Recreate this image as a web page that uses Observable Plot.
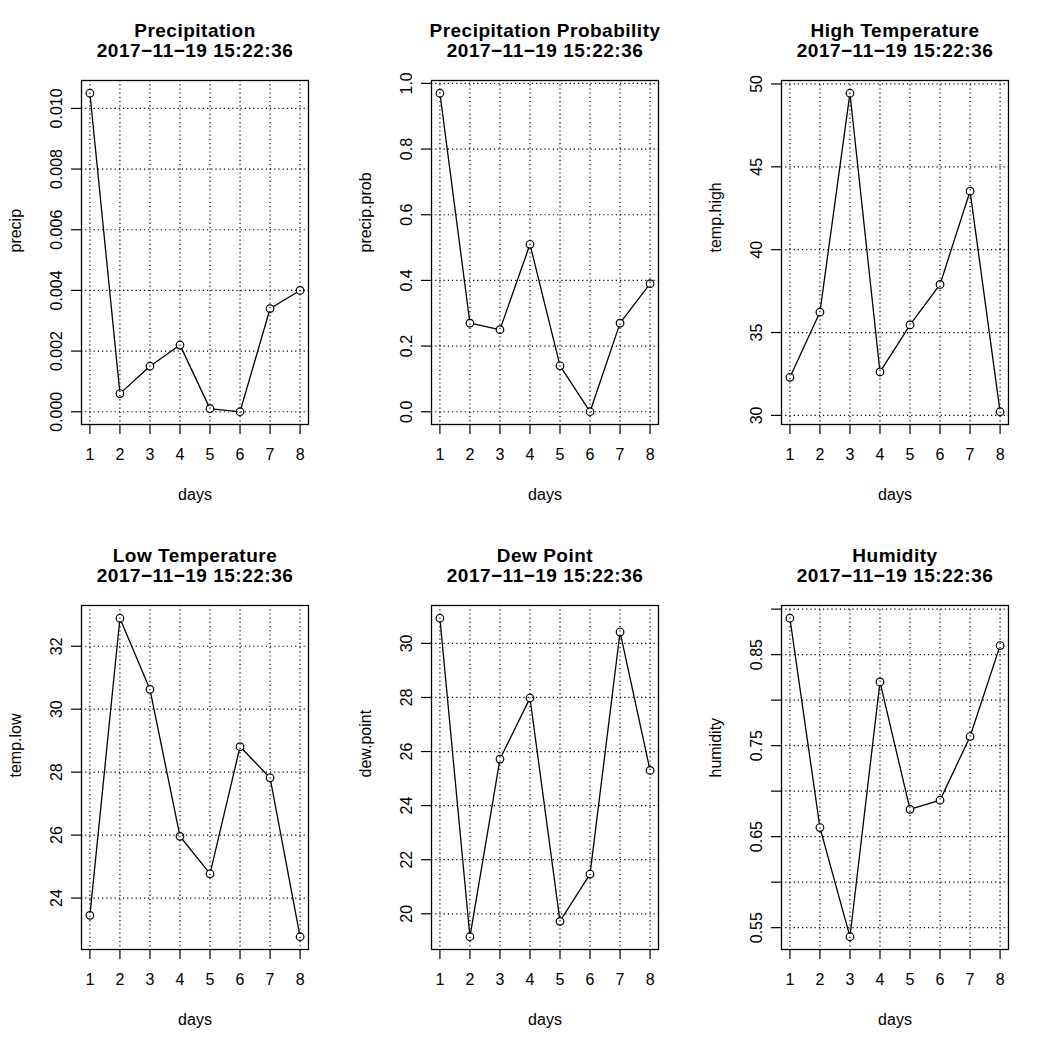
<!DOCTYPE html>
<html><head><meta charset="utf-8">
<script src="https://cdn.jsdelivr.net/npm/d3@7"></script>
<script src="https://cdn.jsdelivr.net/npm/@observablehq/plot@0.6"></script>
<style>
body{margin:0;background:#fff;}
#root{position:relative;width:1050px;height:1050px;background:#fff;}
.panel{position:absolute;width:350px;height:525px;}
</style></head><body><div id="root"></div>
<script>
// ---- data ----
const days = [1, 2, 3, 4, 5, 6, 7, 8];
const dayTicks = [1, 2, 3, 4, 5, 6, 7, 8];
const subtitle = "2017\u221211\u221219 15:22:36";

const precip = [0.0105, 0.0006, 0.0015, 0.0022, 0.0001, 0.0000, 0.0034, 0.0040];
const precipTicks = [0, 0.002, 0.004, 0.006, 0.008, 0.010];
const precipTickLabels = ["0.000", "0.002", "0.004", "0.006", "0.008", "0.010"];

const precipProb = [0.97, 0.27, 0.25, 0.51, 0.14, 0.00, 0.27, 0.39];
const precipProbTicks = [0, 0.2, 0.4, 0.6, 0.8, 1.0];
const precipProbTickLabels = ["0.0", "0.2", "0.4", "0.6", "0.8", "1.0"];

const tempHigh = [32.3, 36.23, 49.44, 32.62, 35.46, 37.9, 43.53, 30.22];
const tempHighTicks = [30, 35, 40, 45, 50];
const tempHighTickLabels = ["30", "35", "40", "45", "50"];

const tempLow = [23.45, 32.89, 30.63, 25.96, 24.77, 28.81, 27.82, 22.77];
const tempLowTicks = [24, 26, 28, 30, 32];
const tempLowTickLabels = ["24", "26", "28", "30", "32"];

const dewPoint = [30.93, 19.15, 25.72, 27.98, 19.72, 21.47, 30.42, 25.30];
const dewPointTicks = [20, 22, 24, 26, 28, 30];
const dewPointTickLabels = ["20", "22", "24", "26", "28", "30"];

const humidity = [0.89, 0.66, 0.54, 0.82, 0.68, 0.69, 0.76, 0.86];
const humidityTicks = [0.55, 0.60, 0.65, 0.70, 0.75, 0.80, 0.85, 0.90];
const humidityTickLabels = ["0.55", "", "0.65", "", "0.75", "", "0.85", ""];

const panels = [
  {title: "Precipitation", ylabel: "precip", values: precip, ticks: precipTicks, labels: precipTickLabels},
  {title: "Precipitation Probability", ylabel: "precip.prob", values: precipProb, ticks: precipProbTicks, labels: precipProbTickLabels},
  {title: "High Temperature", ylabel: "temp.high", values: tempHigh, ticks: tempHighTicks, labels: tempHighTickLabels},
  {title: "Low Temperature", ylabel: "temp.low", values: tempLow, ticks: tempLowTicks, labels: tempLowTickLabels},
  {title: "Dew Point", ylabel: "dew.point", values: dewPoint, ticks: dewPointTicks, labels: dewPointTickLabels},
  {title: "Humidity", ylabel: "humidity", values: humidity, ticks: humidityTicks, labels: humidityTickLabels}
];

// ---- drawing ----
const FONT = "'Liberation Sans', Arial, Helvetica, sans-serif";
const PW = 350, PH = 525;
const ML = 81, MR = 42, MT = 80, MB = 101;
const dash = "1.2,3";

function padded(ext) {
  const r = ext[1] - ext[0];
  return [ext[0] - 0.04 * r, ext[1] + 0.04 * r];
}

const root = document.getElementById("root");
panels.forEach((p, i) => {
  const col = i % 3, row = Math.floor(i / 3);
  const pts = days.map((d, k) => ({day: d, v: p.values[k]}));
  const segs = days.slice(1).map((d, k) => ({x1: days[k], y1: p.values[k], x2: d, y2: p.values[k + 1]}));
  const fmt = (d) => {
    const k = p.ticks.findIndex(t => Math.abs(t - d) < 1e-9);
    return k >= 0 ? p.labels[k] : "";
  };
  const chart = Plot.plot({
    width: PW, height: PH,
    marginLeft: ML, marginRight: MR, marginTop: MT, marginBottom: MB,
    style: {fontFamily: FONT, fontSize: "16px", color: "black", background: "white", overflow: "visible"},
    x: {domain: padded(d3.extent(days))},
    y: {domain: padded(d3.extent(p.values))},
    marks: [
      Plot.gridX(dayTicks, {stroke: "black", strokeOpacity: 1, strokeWidth: 1.2, strokeDasharray: dash}),
      Plot.gridY(p.ticks, {stroke: "black", strokeOpacity: 1, strokeWidth: 1.2, strokeDasharray: dash}),
      Plot.frame({stroke: "black", strokeWidth: 1.3}),
      Plot.axisX({ticks: dayTicks, tickSize: 10, tickPadding: 14, tickFormat: d => String(d), fontSize: 16, strokeWidth: 1.2}),
      Plot.axisY({ticks: p.ticks, tickSize: 10, tickPadding: 10, tickRotate: -90, tickFormat: fmt, fontSize: 16, strokeWidth: 1.2}),
      Plot.arrow(segs, {x1: "x1", y1: "y1", x2: "x2", y2: "y2", stroke: "black", strokeWidth: 1.3, headLength: 0, insetStart: 4, insetEnd: 4}),
      Plot.dot(pts, {x: "day", y: "v", r: 3.8, stroke: "black", strokeWidth: 1.2, fill: "none"}),
      Plot.text([p.title], {text: d => d, frameAnchor: "top", dy: -49.4, fontWeight: "bold", fontSize: 19, lineAnchor: "middle"}),
      Plot.text([subtitle], {text: d => d, frameAnchor: "top", dy: -29.1, fontWeight: "bold", fontSize: 19, lineAnchor: "middle"}),
      Plot.text(["days"], {text: d => d, frameAnchor: "bottom", dy: 70, fontSize: 16, lineAnchor: "middle"}),
      Plot.text([p.ylabel], {text: d => d, frameAnchor: "left", dx: -66, rotate: -90, fontSize: 16, lineAnchor: "middle"})
    ]
  });
  d3.select(chart).selectAll('g[font-weight="bold"]').attr("letter-spacing", "0.5px");
  const div = document.createElement("div");
  div.className = "panel";
  div.style.left = (col * PW) + "px";
  div.style.top = (row * PH) + "px";
  div.appendChild(chart);
  root.appendChild(div);
});
</script></body></html>
